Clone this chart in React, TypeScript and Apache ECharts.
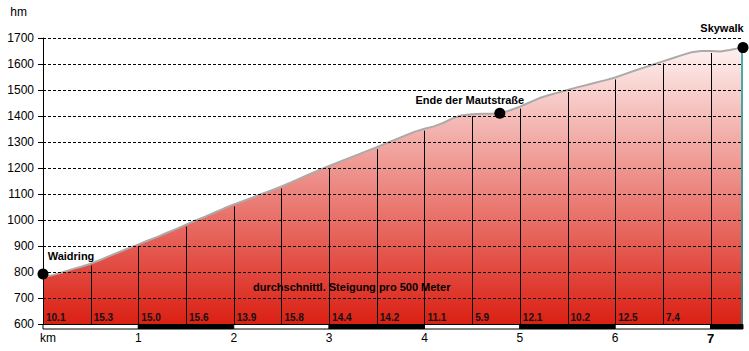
import React, { useEffect, useRef } from "react";
import * as echarts from "echarts";

// ---- data ----
const distanceKm = [
  0, 0.1, 0.2, 0.3, 0.4, 0.5, 0.6, 0.7, 0.8, 0.9,
  1.0, 1.1, 1.2, 1.3, 1.4, 1.5, 1.6, 1.7, 1.8, 1.9,
  2.0, 2.1, 2.2, 2.3, 2.4, 2.5, 2.6, 2.7, 2.8, 2.9,
  3.0, 3.1, 3.2, 3.3, 3.4, 3.5, 3.6, 3.7, 3.8, 3.9,
  4.0, 4.1, 4.2, 4.3, 4.4, 4.5, 4.6, 4.7, 4.8, 4.9,
  5.0, 5.1, 5.2, 5.3, 5.4, 5.5, 5.6, 5.7, 5.8, 5.9,
  6.0, 6.1, 6.2, 6.3, 6.4, 6.5, 6.6, 6.7, 6.8, 6.9,
  7.0, 7.1, 7.2, 7.34,
];
const elevationHm = [
  780, 788, 798, 810, 820, 832, 846, 862, 877, 892,
  906, 921, 935, 951, 966, 982, 998, 1013, 1029, 1045,
  1060, 1073, 1087, 1101, 1115, 1129, 1145, 1161, 1177, 1193,
  1208, 1222, 1237, 1251, 1266, 1280, 1295, 1310, 1325, 1340,
  1351, 1360, 1374, 1392, 1403, 1407, 1409, 1409, 1411, 1422,
  1436, 1452, 1468, 1480, 1490, 1500, 1510, 1519, 1529, 1538,
  1548, 1561, 1574, 1586, 1598, 1610, 1622, 1634, 1645, 1650,
  1650, 1648, 1654, 1664,
];
const segmentStartKm = [0, 0.5, 1, 1.5, 2, 2.5, 3, 3.5, 4, 4.5, 5, 5.5, 6, 6.5];
const gradientPct = ["10.1", "15.3", "15.0", "15.6", "13.9", "15.8", "14.4", "14.2", "11.1", "5.9", "12.1", "10.2", "12.5", "7.4"];
const separatorKm = [0.5, 1, 1.5, 2, 2.5, 3, 3.5, 4, 4.5, 5, 5.5, 6, 6.5, 7];
const kmTicks = [0, 1, 2, 3, 4, 5, 6, 7];
const waypointNames = ["Waidring", "Ende der Mautstraße", "Skywalk"];
const waypointKm = [0, 4.79, 7.34];
const waypointHm = [792, 1411, 1663];
const subtitle = "durchschnittl. Steigung pro 500 Meter";

const X_MAX = 7.34;
const Y_MIN = 600;
const Y_MAX = 1700;
const FONT = "Arial, 'Liberation Sans', sans-serif";

function elevAt(km: number): number {
  for (let i = 0; i < distanceKm.length - 1; i++) {
    if (km >= distanceKm[i] - 1e-9 && km <= distanceKm[i + 1] + 1e-9) {
      const t = (km - distanceKm[i]) / (distanceKm[i + 1] - distanceKm[i]);
      return elevationHm[i] + t * (elevationHm[i + 1] - elevationHm[i]);
    }
  }
  return elevationHm[elevationHm.length - 1];
}

export default function App() {
  const ref = useRef<HTMLDivElement>(null);
  useEffect(() => {
    if (!ref.current) return;
    const chart = echarts.init(ref.current, null, { renderer: "svg" });

    const profile = distanceKm.map((d, i) => [d, elevationHm[i]]);
    const separators = separatorKm.map((k) => [k, elevAt(k)]);
    const labels = segmentStartKm.map((k, i) => [k, Number(gradientPct[i])]);
    const stripEdges = kmTicks.map((k, i) => [k, i + 1 < kmTicks.length ? kmTicks[i + 1] : X_MAX]);
    const labelOffsets = [[28, -2], [-30, 3], [-21, -4]];
    const waypoints = waypointNames.map((n, i) => ({
      name: n,
      value: [waypointKm[i], waypointHm[i]],
      label: { offset: labelOffsets[i] },
    }));

    chart.setOption({
      animation: false,
      grid: { left: 43, right: 6, top: 38, bottom: 27 },
      xAxis: {
        type: "value",
        min: 0,
        max: X_MAX,
        interval: 1,
        axisLine: { show: false },
        axisTick: { show: false },
        splitLine: { show: false },
        axisLabel: {
          margin: 8,
          fontSize: 12,
          fontFamily: FONT,
          color: "#000",
          formatter: (v: number) => {
            if (v === 0) return "{k|km}";
            if (Math.abs(v - Math.round(v)) > 1e-6) return "";
            if (Math.round(v) === 7) return "{b|7}";
            return String(Math.round(v));
          },
          rich: {
            k: { fontSize: 12, fontFamily: FONT, color: "#000", padding: [0, 0, 0, 10] },
            b: { fontSize: 13, fontFamily: FONT, fontWeight: "bold", color: "#000" },
          },
        },
      },
      yAxis: {
        type: "value",
        min: Y_MIN,
        max: Y_MAX,
        interval: 100,
        z: 4,
        name: "hm",
        nameLocation: "end",
        nameGap: 26,
        nameTextStyle: {
          fontSize: 12,
          fontFamily: FONT,
          color: "#000",
          align: "right",
          verticalAlign: "middle",
          padding: [0, 16, 0, 0],
        },
        axisLine: { show: true, lineStyle: { color: "#000", width: 1 } },
        axisTick: { show: true, length: 5, lineStyle: { color: "#000" } },
        axisLabel: {
          margin: 9,
          fontSize: 12,
          fontFamily: FONT,
          color: "#000",
          formatter: (v: number) => String(v),
        },
        splitLine: { show: true, lineStyle: { color: "#000", width: 1, type: [3, 2] } },
      },
      graphic: [
        {
          type: "text",
          x: 253,
          y: 287,
          z: 10,
          style: { text: subtitle, font: `bold 11px ${FONT}`, fill: "#000", verticalAlign: "middle" },
        },
      ],
      series: [
        {
          type: "line",
          data: profile,
          showSymbol: false,
          symbol: "none",
          z: 2,
          lineStyle: { color: "#ababab", width: 2 },
          areaStyle: {
            origin: "start",
            opacity: 1,
            color: new echarts.graphic.LinearGradient(0, 0, 0, 1, [
              { offset: 0, color: "#fdf1f0" },
              { offset: 1, color: "#db2014" },
            ]),
          },
        },
        {
          type: "custom",
          z: 3,
          clip: false,
          data: separators,
          renderItem: (params: any, api: any) => {
            const p0 = api.coord([api.value(0), Y_MIN]);
            const p1 = api.coord([api.value(0), api.value(1)]);
            return {
              type: "line",
              shape: { x1: Math.round(p0[0]) + 0.5, y1: p0[1], x2: Math.round(p0[0]) + 0.5, y2: p1[1] + 2 },
              style: { stroke: "#000", lineWidth: 1 },
            };
          },
        },
        {
          type: "custom",
          z: 3,
          clip: false,
          data: [[X_MAX, waypointHm[2]]],
          renderItem: (params: any, api: any) => {
            const p0 = api.coord([api.value(0), Y_MIN]);
            const p1 = api.coord([api.value(0), api.value(1)]);
            return {
              type: "line",
              shape: { x1: p0[0] - 1, y1: p0[1], x2: p0[0] - 1, y2: p1[1] },
              style: { stroke: "#119a9a", lineWidth: 1.5 },
            };
          },
        },
        {
          type: "custom",
          z: 5,
          clip: false,
          data: labels,
          renderItem: (params: any, api: any) => {
            const p = api.coord([api.value(0), Y_MIN]);
            return {
              type: "text",
              x: p[0] + 3,
              y: p[1] - 7,
              style: {
                text: gradientPct[params.dataIndex],
                font: `bold 10px ${FONT}`,
                fill: "#111",
                verticalAlign: "middle",
                align: "left",
              },
            };
          },
        },
        {
          type: "custom",
          z: 5,
          clip: false,
          data: stripEdges,
          renderItem: (params: any, api: any) => {
            const a = api.coord([api.value(0), Y_MIN]);
            const b = api.coord([api.value(1), Y_MIN]);
            const dark = params.dataIndex % 2 === 1;
            return {
              type: "rect",
              shape: { x: a[0], y: a[1] + 0.5, width: b[0] - a[0], height: 4.5 },
              style: { fill: dark ? "#000" : "#fff", stroke: "#000", lineWidth: 1 },
            };
          },
        },
        {
          type: "scatter",
          z: 6,
          clip: false,
          symbol: "circle",
          symbolSize: 11,
          itemStyle: { color: "#000", opacity: 1, borderWidth: 0 },
          data: waypoints,
          label: {
            show: true,
            position: "top",
            formatter: "{b}",
            fontSize: 11,
            fontWeight: "bold",
            fontFamily: FONT,
            color: "#000",
          },
        },
      ],
    });
    return () => chart.dispose();
  }, []);
  return (
    <div
      ref={ref}
      style={{ position: "fixed", left: 0, top: 0, width: 749, height: 351, background: "#fff" }}
    />
  );
}
